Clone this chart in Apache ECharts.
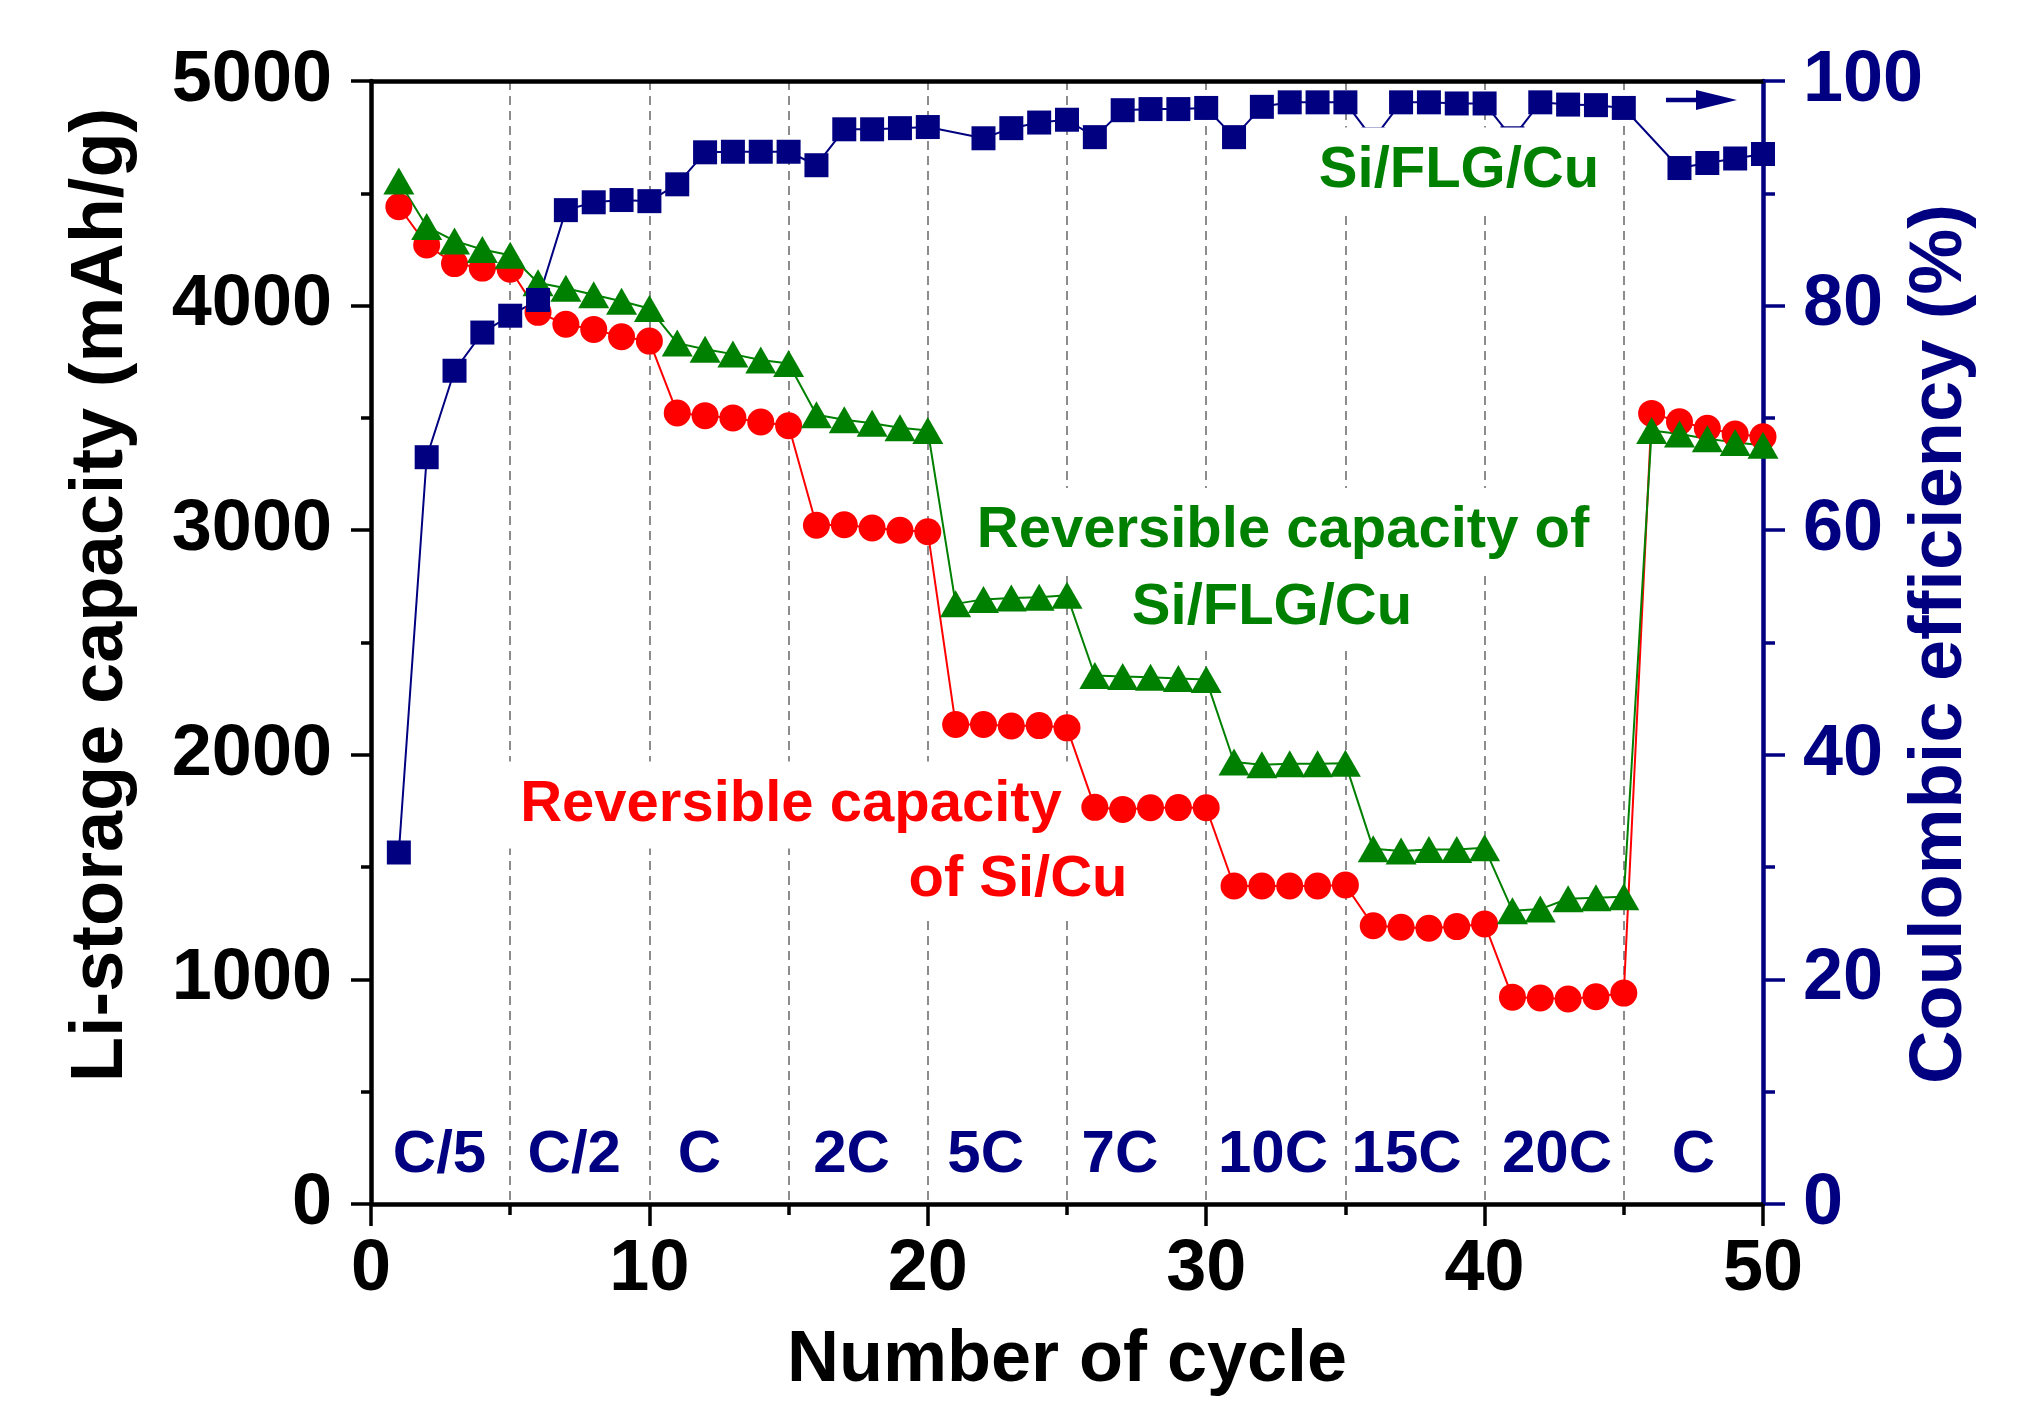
<!DOCTYPE html>
<html><head><meta charset="utf-8">
<script src="https://cdn.jsdelivr.net/npm/echarts@6/dist/echarts.min.js"></script>
<style>html,body{margin:0;padding:0;background:#fff}#c{width:2030px;height:1403px}</style>
</head><body><div id="c"></div>
<script>
// ---- data ----
const cycles = [1,2,3,4,5,6,7,8,9,10,11,12,13,14,15,16,17,18,19,20,21,22,23,24,25,26,27,28,29,30,31,32,33,34,35,36,37,38,39,40,41,42,43,44,45,46,47,48,49,50];
const siCu = [4440,4270,4187,4167,4162,3970,3917,3894,3861,3842,3522,3510,3500,3482,3465,3022,3024,3010,3000,2993,2135,2135,2128,2130,2120,1766,1757,1764,1765,1764,1416,1416,1416,1416,1420,1239,1232,1228,1235,1247,921,917,913,923,939,3520,3483,3454,3428,3416];
const siFlgCu = [4555,4352,4288,4250,4224,4102,4077,4048,4019,3987,3833,3806,3784,3758,3742,3514,3492,3476,3456,3444,2672,2692,2698,2701,2710,2353,2349,2345,2340,2335,1968,1956,1960,1960,1962,1582,1572,1578,1578,1586,1306,1313,1359,1363,1368,3444,3428,3407,3391,3378];
const coulombic = [31.3,66.5,74.2,77.6,79.1,80.5,88.5,89.2,89.4,89.3,90.8,93.65,93.7,93.7,93.7,92.5,95.7,95.7,95.8,95.9,null,94.9,95.8,96.3,96.55,95.0,97.4,97.5,97.5,97.6,95.0,97.7,98.1,98.1,98.1,94.8,98.1,98.1,98.0,98.0,94.9,98.1,97.9,97.85,97.6,null,92.25,92.7,93.1,93.5];
const rateLabels = ['C/5','C/2','C','2C','5C','7C','10C','15C','20C','C'];
const ratePositions = [2.46,7.3,11.8,17.26,22.08,26.9,32.4,37.2,42.6,47.5];
const rateLabelLevel = 214;

const FONT = '"Liberation Sans", Arial, Helvetica, sans-serif';
const NAVY = '#000080', GREEN = '#008000', RED = '#ff0000';

const chart = echarts.init(document.getElementById('c'), null, {renderer:'canvas'});
const dash = {color:'#8c8c8c', type:[9,6], width:2};
function txt(text, x, y, color, size, extra) {
  return {type:'text', x:x, y:y, z:100, silent:true,
    style:Object.assign({text:text, fill:color, font:'bold '+size+'px '+FONT,
      align:'center', textAlign:'center', verticalAlign:'middle', textVerticalAlign:'middle'}, extra||{})};
}
const box = (p)=>({backgroundColor:'#fff', padding:p});
const plain = (v)=>String(v);

chart.setOption({
  animation:false,
  grid:{left:371, right:267, top:81, bottom:199, containLabel:false, outerBoundsMode:'none'},
  xAxis:[{
    type:'value', position:'bottom', min:0, max:50, interval:10,
    axisLine:{onZero:false, lineStyle:{color:'#000', width:4.5}},
    axisTick:{length:22, lineStyle:{color:'#000', width:3.5}},
    minorTick:{show:true, splitNumber:2, length:11, lineStyle:{color:'#000', width:3.5}},
    axisLabel:{fontSize:72, fontWeight:'bold', color:'#000', fontFamily:FONT, margin:30, formatter:plain},
    splitLine:{show:true, showMinLine:false, showMaxLine:false, lineStyle:dash},
    minorSplitLine:{show:true, lineStyle:dash}
  },{
    type:'value', position:'top', min:0, max:50,
    axisLine:{onZero:false, lineStyle:{color:'#000', width:4.5}},
    axisTick:{show:false}, axisLabel:{show:false}, splitLine:{show:false}
  }],
  yAxis:[{
    type:'value', position:'left', min:0, max:5000, interval:1000,
    axisLine:{show:true, onZero:false, lineStyle:{color:'#000', width:4.5}},
    axisTick:{show:true, length:20, lineStyle:{color:'#000', width:3.5}},
    minorTick:{show:true, splitNumber:2, length:10, lineStyle:{color:'#000', width:3.5}},
    axisLabel:{fontSize:72, fontWeight:'bold', color:'#000', fontFamily:FONT, margin:39, formatter:plain},
    splitLine:{show:false}
  },{
    type:'value', position:'right', min:0, max:100, interval:20,
    axisLine:{show:true, onZero:false, lineStyle:{color:NAVY, width:4.5}},
    axisTick:{show:true, length:22, lineStyle:{color:NAVY, width:3.5}},
    minorTick:{show:true, splitNumber:2, length:12, lineStyle:{color:NAVY, width:3.5}},
    axisLabel:{fontSize:72, fontWeight:'bold', color:NAVY, fontFamily:FONT, margin:40, formatter:plain},
    splitLine:{show:false}
  }],
  series:[{
    name:'Si/Cu', type:'line', data:cycles.map((c,i)=>[c, siCu[i]]),
    symbol:'circle', symbolSize:27, showAllSymbol:true,
    lineStyle:{color:RED, width:2}, itemStyle:{color:RED}, emphasis:{disabled:true}
  },{
    name:'Si/FLG/Cu', type:'line', data:cycles.map((c,i)=>[c, siFlgCu[i]]),
    symbol:'triangle', symbolSize:[31,27], showAllSymbol:true,
    lineStyle:{color:GREEN, width:2}, itemStyle:{color:GREEN}, emphasis:{disabled:true}
  },{
    name:'CE', type:'line', yAxisIndex:1, connectNulls:true,
    data:cycles.map((c,i)=>[c, coulombic[i]]),
    symbol:'rect', symbolSize:24, showAllSymbol:true,
    lineStyle:{color:NAVY, width:2}, itemStyle:{color:NAVY}, emphasis:{disabled:true}
  }]
});

const rateGraphics = ratePositions.map((p,i)=>{
  const pt = chart.convertToPixel({xAxisIndex:0, yAxisIndex:0}, [p, rateLabelLevel]);
  return txt(rateLabels[i], pt[0], pt[1], NAVY, 60, null);
});

chart.setOption({
  graphic:[
    Object.assign(txt('Li-storage capacity (mAh/g)', 102, 595, '#000', 74, null), {rotation:Math.PI/2}),
    Object.assign(txt('Coulombic efficiency (%)', 1941, 644, NAVY, 74, null), {rotation:Math.PI/2}),
    txt('Number of cycle', 1067, 1361, '#000', 72, null),
    txt('Si/FLG/Cu', 1459, 171, GREEN, 58, box([17,14,12,14])),
    txt('Reversible capacity of', 1283, 531, GREEN, 58, box([16,14,12,14])),
    txt('Si/FLG/Cu', 1272, 608, GREEN, 58, box([12,14,13,14])),
    txt('Reversible capacity', 791, 805, RED, 58, box([13,14,16,14])),
    txt('of Si/Cu', 1018, 880, RED, 58, box([10,14,12,14])),
    {type:'line', z:100, silent:true, shape:{x1:1666, y1:100, x2:1700, y2:100}, style:{stroke:NAVY, lineWidth:4.5}},
    {type:'polygon', z:100, silent:true, shape:{points:[[1696,90],[1737,100],[1696,110]]}, style:{fill:NAVY}}
  ].concat(rateGraphics)
});
</script></body></html>
